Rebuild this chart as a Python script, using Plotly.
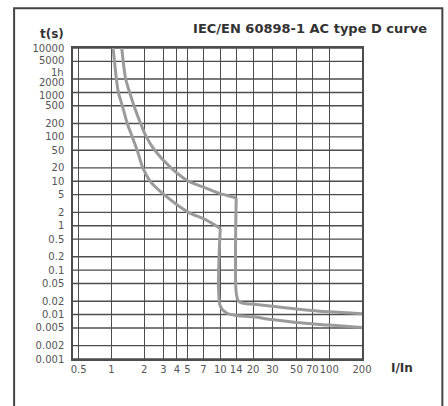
import math
import plotly.graph_objects as go

# ---- data ----
x_ticks = [0.5, 1, 2, 3, 4, 5, 7, 10, 14, 20, 30, 50, 70, 100, 200]
x_ticklabels = ["0.5", "1", "2", "3", "4", "5", "7", "10", "14", "20", "30", "50", "70", "100", "200"]

y_label_vals = [10000, 5000, 3600, 2000, 1000, 500, 200, 100, 50, 20, 10, 5, 2, 1,
                0.5, 0.2, 0.1, 0.05, 0.02, 0.01, 0.005, 0.002, 0.001]
y_labels = ["10000", "5000", "1h", "2000", "1000", "500", "200", "100", "50", "20", "10",
            "5", "2", "1", "0.5", "0.2", "0.1", "0.05", "0.02", "0.01", "0.005", "0.002", "0.001"]
y_grid_vals = [10000, 5000, 2000, 1000, 500, 200, 100, 50, 20, 10, 5, 2, 1,
               0.5, 0.2, 0.1, 0.05, 0.02, 0.01, 0.005, 0.002, 0.001]

# lower (non-tripping) curve: thermal part, then magnetic drop and tail
lower_thermal_I = [1.037, 1.111, 1.159, 1.26, 1.399, 1.554, 1.725, 1.944, 2.275, 3.05, 5.1, 7.23, 10]
lower_thermal_t = [10000, 2000, 1000, 500, 200, 100, 50, 20, 10, 5, 2, 1.39, 0.87]
lower_tail_I = [10, 10, 11.4, 13.5, 20, 30, 50, 100, 200]
lower_tail_t = [0.87, 0.0154, 0.0109, 0.0097, 0.0089, 0.0077, 0.0066, 0.0058, 0.0051]

# upper (tripping) curve
upper_thermal_I = [1.244, 1.353, 1.471, 1.61, 1.853, 2.093, 2.50, 3.53, 5.1, 6.83, 9.55, 14]
upper_thermal_t = [10000, 2000, 1000, 500, 200, 100, 50, 20, 10, 7.6, 5.5, 4.26]
upper_tail_I = [14, 14, 14.7, 16.7, 19.5, 30, 50, 100, 200]
upper_tail_t = [4.26, 0.031, 0.020, 0.0177, 0.0172, 0.0154, 0.0134, 0.0115, 0.0104]

# ---- figure ----
curve_color = "#9b9b9b"
grid_color = "#4d4d4d"
text_color = "#555555"
font_family = "DejaVu Sans"

W, H = 448, 406
ML, MR, MT, MB = 73, 85.5, 48, 47
pw = W - ML - MR
ph = H - MT - MB

# labels that the reference nudges apart in the crowded top group (pixels, + = up)
label_nudge = {"5000": 0.5, "1h": -4.5, "2000": -3.5, "1000": -3.5}

fig = go.Figure()
for xs, ys in [(lower_thermal_I, lower_thermal_t), (lower_tail_I, lower_tail_t),
               (upper_thermal_I, upper_thermal_t), (upper_tail_I, upper_tail_t)]:
    fig.add_trace(go.Scatter(
        x=xs, y=ys, mode="lines",
        line=dict(color=curve_color, width=3, shape="spline", smoothing=0.8),
        hoverinfo="skip", showlegend=False,
    ))

tick_vals = [v for v, s in zip(y_label_vals, y_labels) if s not in label_nudge]
tick_text = [s for s in y_labels if s not in label_nudge]

annotations = []
for v, s in zip(y_label_vals, y_labels):
    if s in label_nudge:
        annotations.append(dict(
            text=s, x=(66 - ML) / pw, xref="paper", xanchor="right",
            y=math.log10(v), yref="y", yanchor="middle", yshift=label_nudge[s],
            showarrow=False, font=dict(family=font_family, size=10, color=text_color)))

annotations += [
    dict(text="<b>t(s)</b>", x=(52 - ML) / pw, y=(H - 34 - MB) / ph,
         xref="paper", yref="paper", xanchor="center", yanchor="middle", showarrow=False,
         font=dict(family=font_family, size=12, color="#333333")),
    dict(text="<b>I/In</b>", x=(403 - ML) / pw, y=(H - 368 - MB) / ph,
         xref="paper", yref="paper", xanchor="center", yanchor="middle", showarrow=False,
         font=dict(family=font_family, size=12, color="#333333")),
]

fig.update_layout(
    width=W, height=H,
    margin=dict(l=ML, r=MR, t=MT, b=MB, autoexpand=False),
    paper_bgcolor="white", plot_bgcolor="white",
    showlegend=False,
    font=dict(family=font_family, size=10, color=text_color),
    title=dict(
        text="<b>IEC/EN 60898-1 AC type D curve</b>",
        x=427 / W, xanchor="right", xref="container",
        y=1 - 28 / H, yanchor="middle", yref="container",
        font=dict(family=font_family, size=13, color="#333333"),
    ),
    xaxis=dict(
        type="log", range=[math.log10(0.444), math.log10(200)],
        tickvals=x_ticks, ticktext=x_ticklabels, tickangle=0, automargin=False,
        showgrid=True, gridcolor=grid_color, gridwidth=1.4,
        showline=True, mirror=True, linecolor=grid_color, linewidth=1.5,
        zeroline=False, ticks="",
        tickfont=dict(family=font_family, size=10, color=text_color),
    ),
    yaxis=dict(
        type="log", range=[-3, 4], automargin=False,
        tickvals=tick_vals, ticktext=tick_text,
        showgrid=False,
        showline=True, mirror=True, linecolor=grid_color, linewidth=1.5,
        zeroline=False, ticks="outside", ticklen=5, tickcolor="rgba(0,0,0,0)",
        tickfont=dict(family=font_family, size=10, color=text_color),
        layer="below traces",
    ),
    annotations=annotations,
)

# horizontal grid lines (the 1h label has no grid line of its own)
for v in y_grid_vals:
    fig.add_hline(y=v, line=dict(color=grid_color, width=1.4), layer="below")

# outer frame
fig.add_shape(type="rect", xref="paper", yref="paper",
              x0=(14 - ML) / pw, x1=(443 - ML) / pw,
              y0=(0 - 60 - MB) / ph, y1=(H - 8.3 - MB) / ph,
              line=dict(color="#444444", width=2), layer="below")

fig.write_html("out.html", config={"displayModeBar": False},
               post_script="document.body.style.margin='0';")
